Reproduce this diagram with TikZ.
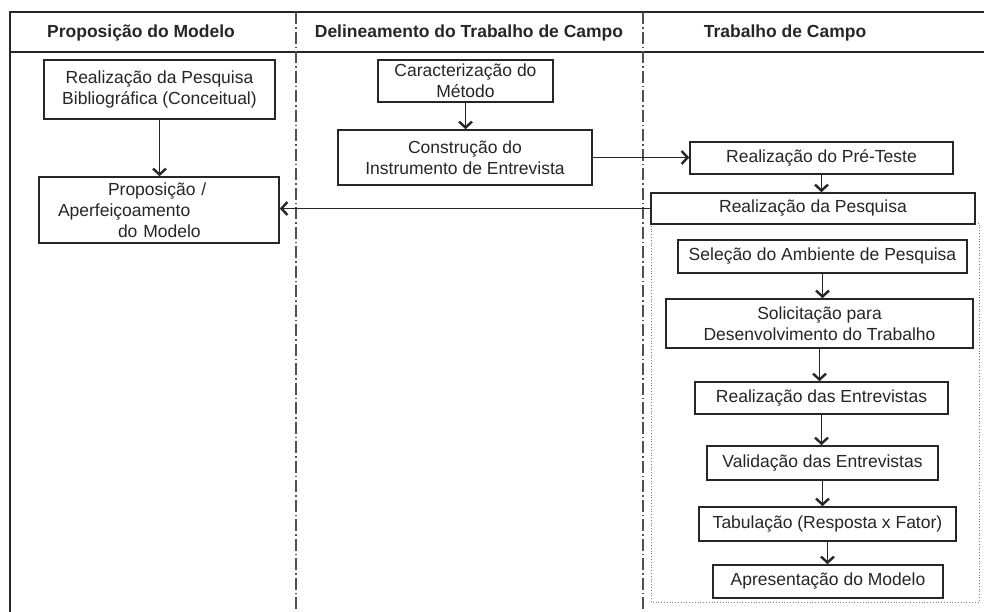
\documentclass[tikz,border=0pt]{standalone}
\usepackage{fontspec}
\setmainfont{Liberation Sans}
\usetikzlibrary{arrows.meta}
\definecolor{ink}{HTML}{262626}
\tikzset{
  box/.style={draw=ink, line width=1.6pt, fill=white, inner sep=0pt, align=center,
    text=ink, font=\fontsize{17.5}{21}\selectfont},
  head/.style={text=ink, font=\fontsize{17.5}{21}\selectfont\bfseries},
  frame/.style={draw=ink, line width=2pt},
  lane/.style={draw=ink!80, line width=1.2pt, dash pattern=on 12pt off 3pt on 1.5pt off 3pt},
  flow/.style={draw=ink, line width=1.4pt,
    -{Straight Barb[length=6pt,width=13pt,line width=2.4pt]}},
  group/.style={draw=ink!60, line width=0.8pt, dotted}
}
\begin{document}
\begin{tikzpicture}[x=1pt, y=-1pt]
\useasboundingbox (0,0) rectangle (984,611);

% outer frame, header rule and lane separators
\draw[frame] (986,12) -- (10,12) -- (10,613);
\draw[frame] (10,52) -- (986,52);
\draw[lane] (296,12) -- (296,611);
\draw[lane] (643,12) -- (643,611);

% column headings
\node[head] (h1) at (141,33) {Proposição do Modelo};
\node[head] (h2) at (469,33) {Delineamento do Trabalho de Campo};
\node[head] (h3) at (785,33) {Trabalho de Campo};

% sub-steps of the survey
\draw[group] (651,223) rectangle (979,602);

% first column
\node[box, minimum width=231pt, minimum height=59pt] (b1) at (159.5,89.5)
  {Realização da Pesquisa\\Bibliográfica (Conceitual)};
\node[box, minimum width=240pt, minimum height=66pt, text width=202pt, align=left] (b2) at (159,210)
  {\hspace*{50pt}Proposição /\\Aperfeiçoamento\\\hspace*{60pt}do Modelo};

% second column
\node[box, minimum width=175pt, minimum height=42pt] (b3) at (465.5,81)
  {Caracterização do\\Método};
\node[box, minimum width=254pt, minimum height=55pt] (b4) at (465,157.5)
  {Construção do\\Instrumento de Entrevista};

% third column
\node[box, minimum width=263pt, minimum height=32pt] (b5) at (821.5,158) {Realização do Pré-Teste};
\node[box, minimum width=324pt, minimum height=31pt] (b6) at (813,208.5) {Realização da Pesquisa};
\node[box, minimum width=289pt, minimum height=33pt] (b8) at (822.5,256.5) {Seleção do Ambiente de Pesquisa};
\node[box, minimum width=307pt, minimum height=49pt] (b9) at (819.5,323.5)
  {Solicitação para\\Desenvolvimento do Trabalho};
\node[box, minimum width=253pt, minimum height=32pt] (b10) at (821.5,398) {Realização das Entrevistas};
\node[box, minimum width=231pt, minimum height=34pt] (b11) at (822.5,463) {Validação das Entrevistas};
\node[box, minimum width=257pt, minimum height=34pt] (b12) at (827.5,524) {Tabulação (Resposta x Fator)};
\node[box, minimum width=230pt, minimum height=33pt] (b13) at (828,581.5) {Apresentação do Modelo};

% connectors
\draw[flow] (b1.south) -- (b1.south |- b2.north);
\draw[flow] (b3.south) -- (b3.south |- b4.north);
\draw[flow] (b4.east) -- (b4.east -| b5.west);
\draw[flow] (b5.south) -- (b5.south |- b6.north);
\draw[flow] (b6.west) -- (b6.west -| b2.east);
\draw[flow] (b8.south) -- (b8.south |- b9.north);
\draw[flow] (b9.south) -- (b9.south |- b10.north);
\draw[flow] (b10.south) -- (b10.south |- b11.north);
\draw[flow] (b11.south) -- (b11.south |- b12.north);
\draw[flow] (b12.south) -- (b12.south |- b13.north);
\end{tikzpicture}
\end{document}
